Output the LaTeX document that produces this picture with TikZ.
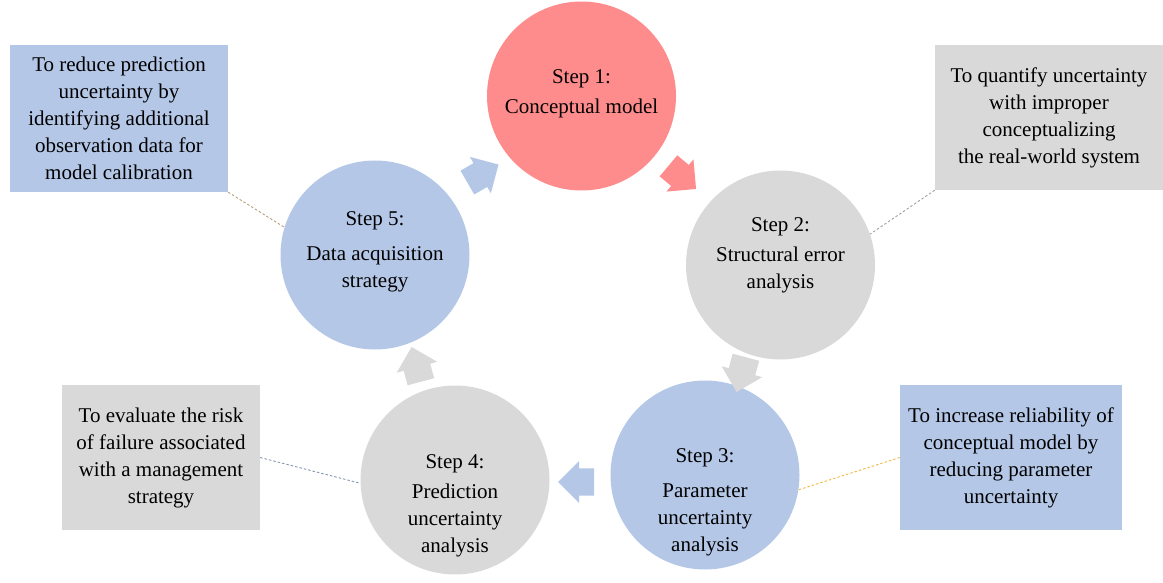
\documentclass[tikz,border=0pt]{standalone}
\usepackage{fontspec}
\setmainfont{Liberation Serif}
\usetikzlibrary{shapes.arrows}
\definecolor{cred}{RGB}{255,140,140}
\definecolor{cblue}{RGB}{180,199,231}
\definecolor{cgray}{RGB}{217,217,217}
\definecolor{ltan}{RGB}{185,160,125}
\definecolor{lgray}{RGB}{160,160,160}
\definecolor{lorange}{RGB}{240,185,70}
\definecolor{lblue}{RGB}{132,151,176}
\tikzset{
  stepc/.style={circle, minimum size=189pt, inner sep=0pt},
  steptext/.style={inner sep=0pt, align=center, font=\fontsize{21}{27}\selectfont},
  note/.style={rectangle, inner sep=0pt, align=center, font=\fontsize{21}{27}\selectfont},
  barrow/.style={single arrow, minimum height=36pt, minimum width=42pt, single arrow head extend=7pt, inner xsep=0pt, inner ysep=13pt},
  link/.style={dashed, dash pattern=on 2.5pt off 2pt, line width=0.9pt}
}
\begin{document}
\begin{tikzpicture}[x=1pt,y=-1pt]
\useasboundingbox (0,0) rectangle (1163,583);
% circles
\node[stepc, fill=cred] (s1) at (581.5,96) {};
\node[stepc, fill=cgray] (s2) at (780.5,265) {};
\node[stepc, fill=cblue] (s3) at (705,475) {};
\node[stepc, fill=cgray] (s4) at (455,480) {};
\node[stepc, fill=cblue] (s5) at (375,255) {};
\node[steptext] (t1) at (581.5,94) {Step 1:\\[3pt]Conceptual model};
\node[steptext] (t2) at (780.5,255) {Step 2:\\[3pt]Structural error\\analysis};
\node[steptext] (t3) at (705,502) {Step 3:\\[8pt]Parameter\\uncertainty\\analysis};
\node[steptext] (t4) at (455,506) {Step 4:\\[3pt]Prediction\\uncertainty\\analysis};
\node[steptext] (t5) at (375,252) {Step 5:\\[8pt]Data acquisition\\strategy};
% notes
\node[note, fill=cblue, minimum width=218pt, minimum height=147pt] (b5) at (119,118.5)
  {To reduce prediction\\uncertainty by\\identifying additional\\observation data for\\model calibration};
\node[note, fill=cgray, minimum width=228pt, minimum height=145pt] (b2) at (1049,117.5)
  {To quantify uncertainty\\with improper\\conceptualizing\\the real-world system};
\node[note, fill=cblue, minimum width=222pt, minimum height=145pt] (b3) at (1011,457.5)
  {To increase reliability of\\conceptual model by\\reducing parameter\\uncertainty};
\node[note, fill=cgray, minimum width=198pt, minimum height=145pt] (b4) at (161,457.5)
  {To evaluate the risk\\of failure associated\\with a management\\strategy};
% block arrows
\node[barrow, fill=cblue, rotate=30] (a51) at (477,177) {};
\node[barrow, fill=cred, rotate=-40] (a12) at (677,173) {};
\node[barrow, fill=cgray, rotate=-105] (a23) at (743,368) {};
\node[barrow, fill=cblue, rotate=180] (a34) at (583,482) {};
\node[barrow, fill=cgray, rotate=105] (a45) at (418,371) {};
% dashed links
\draw[link, ltan] (b5.south east) -- (s5.163);
\draw[link, lgray] (b2.south west) -- (s2.19);
\draw[link, lorange] (b3.west) -- (s3.-9);
\draw[link, lblue] (b4.east) -- (s4.182);
\end{tikzpicture}
\end{document}
